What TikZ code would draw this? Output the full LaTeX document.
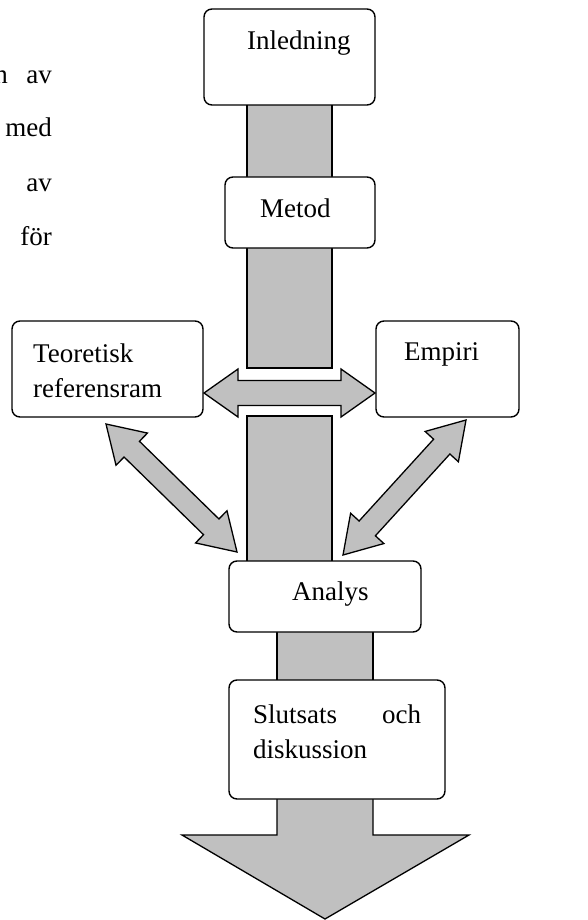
\documentclass[tikz,border=0pt]{standalone}
\usepackage{fontspec}
\setmainfont{Liberation Serif}
\usetikzlibrary{calc}
\definecolor{fillgray}{RGB}{192,192,192}
\newcommand\dblblock[5]{%
  \coordinate (ha) at ($(#1)!#5!(#2)$);
  \coordinate (hb) at ($(#2)!#5!(#1)$);
  \draw[blk] (#1) -- ($(ha)!#4!90:(#2)$) -- ($(ha)!#3!90:(#2)$)
    -- ($(hb)!#3!-90:(#1)$) -- ($(hb)!#4!-90:(#1)$) -- (#2)
    -- ($(hb)!#4!90:(#1)$) -- ($(hb)!#3!90:(#1)$)
    -- ($(ha)!#3!-90:(#2)$) -- ($(ha)!#4!-90:(#2)$) -- cycle;
}
\begin{document}
\begin{tikzpicture}[x=1pt,y=-1pt,
  blk/.style={fill=fillgray, draw=black, line width=1.3pt, line join=miter},
  box/.style={draw, fill=white, rounded corners=8pt, line width=1.4pt, inner sep=0pt},
  lbl/.style={anchor=base west, inner sep=0pt, font=\fontsize{27}{36}\selectfont},
  mrg/.style={anchor=base east, inner sep=0pt, font=\fontsize{27}{36}\selectfont},
]
\useasboundingbox (0,0) rectangle (587,920);

% columns
\draw[blk] (247,100) rectangle (332,180);
\draw[blk] (247,245) rectangle (332,368);
\draw[blk] (247,416) rectangle (332,565);
\draw[blk] (277,628) rectangle (373,685);
\draw[blk] (277,790) -- (277,835) -- (182,835) -- (325,919) -- (469,835) -- (373,835) -- (373,790) -- cycle;

% boxes
\node[box, minimum width=171pt, minimum height=96pt] (inl) at (289.5,57) {};
\node[box, minimum width=150pt, minimum height=71pt] (met) at (300,212.5) {};
\node[box, minimum width=191pt, minimum height=96pt] (teo) at (107.5,369) {};
\node[box, minimum width=143pt, minimum height=96pt] (emp) at (447.5,369) {};
\node[box, minimum width=192pt, minimum height=71pt] (ana) at (325,596.5) {};
\node[box, minimum width=216pt, minimum height=119pt] (slu) at (337,739.5) {};

% labels
\node[lbl] (tinl) at (247,50) {Inledning};
\node[lbl] (tmet) at (260,217) {Metod};
\node[lbl] (tteo1) at (33,362) {Teoretisk};
\node[lbl] (tteo2) at (33,397) {referensram};
\node[lbl] (temp) at (404,360) {Empiri};
\node[lbl] (tana) at (292,600) {Analys};
\node[lbl] (tslu1) at (253,723) {\hbox to 168pt{Slutsats\hfill och}};
\node[lbl] (tslu2) at (253,758) {diskussion};

% margin text
\node[mrg] (m0) at (8,84) {n};
\node[mrg] (m1) at (52,84) {av};
\node[mrg] (m2) at (52,137) {med};
\node[mrg] (m3) at (52,192) {av};
\node[mrg] (m4) at (52,245) {för};

% block arrows
\coordinate (hl) at (204,393);
\coordinate (hr) at (375,393);
\dblblock{hl}{hr}{12.5pt}{24pt}{34pt}
\coordinate (dl1) at (106,424);
\coordinate (dl2) at (237,552);
\dblblock{dl1}{dl2}{11pt}{22.5pt}{36pt}
\coordinate (dr1) at (466,420);
\coordinate (dr2) at (343,555);
\dblblock{dr1}{dr2}{11pt}{22.5pt}{36pt}
\end{tikzpicture}
\end{document}
